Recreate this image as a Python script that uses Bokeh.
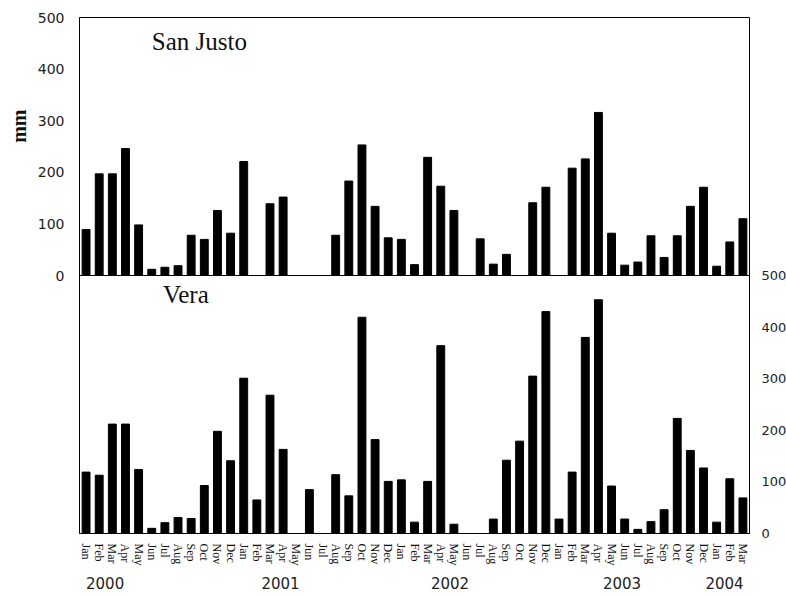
from bokeh.plotting import figure
from bokeh.models import (Range1d, LinearAxis, FixedTicker, Span, Label, Title)
from bokeh.embed import file_html
from bokeh.resources import INLINE

# ---------------- data ----------------
month_labels = ["Jan", "Feb", "Mar", "Apr", "May", "Jun", "Jul", "Aug", "Sep", "Oct", "Nov", "Dec"] * 4 + ["Jan", "Feb", "Mar"]
years = ["2000", "2001", "2002", "2003", "2004"]
san_justo = [89, 197, 197, 246, 98, 12, 16, 19, 78, 70, 126, 82,
             221, 0, 139, 152, 0, 0, 0, 78, 183, 253, 134, 73,
             70, 21, 229, 173, 126, 0, 71, 22, 41, 0, 141, 171,
             0, 208, 226, 316, 82, 20, 26, 77, 35, 77, 134, 171,
             18, 65, 110]
vera = [119, 113, 212, 212, 124, 10, 21, 31, 29, 93, 198, 141,
        301, 65, 268, 163, 0, 85, 0, 114, 73, 419, 182, 101,
        104, 22, 101, 364, 18, 0, 0, 28, 142, 179, 305, 430,
        28, 119, 380, 453, 92, 28, 8, 23, 46, 223, 161, 127,
        22, 106, 69]
y_ticks = [0, 100, 200, 300, 400, 500]

# ---------------- layout ----------------
n = len(month_labels)
x = list(range(n))
year_label_x = [1.45, 14.8, 27.7, 40.8, 48.6]

p = figure(frame_width=670, frame_height=516, output_backend="svg", toolbar_location=None,
           x_range=Range1d(-0.5, n - 0.5), y_range=Range1d(-500, 500),
           x_axis_location=None, y_axis_location=None,
           min_border_left=79, min_border_top=17, min_border_right=0, min_border_bottom=0)
p.extra_y_ranges = {"vera": Range1d(0, 1000)}
p.xgrid.visible = False
p.ygrid.visible = False
p.outline_line_color = "black"
p.outline_line_width = 1
p.background_fill_color = "white"
p.border_fill_color = "white"

# bars
p.vbar(x=x, top=san_justo, bottom=0, width=0.6, fill_color="black", line_color="black")
p.vbar(x=x, top=vera, bottom=0, width=0.6, fill_color="black", line_color="black", y_range_name="vera")

# divider between panels
p.add_layout(Span(location=0, dimension="width", line_color="black", line_width=1))

# left axis (San Justo)
ly = LinearAxis(ticker=FixedTicker(ticks=y_ticks), bounds=(0, 500))
ly.major_tick_line_color = None
ly.minor_tick_line_color = None
ly.axis_line_color = "black"
ly.major_label_text_font = "DejaVu Sans"
ly.major_label_text_font_size = "14px"
ly.major_label_text_color = "#222222"
ly.major_label_standoff = 9
p.add_layout(ly, "left")

# y axis title beside the upper panel
p.add_layout(Title(text="mm", align="right", offset=92, text_font="Liberation Serif",
                   text_font_style="bold", text_font_size="20px", text_color="#111111"), "left")

# right axis (Vera)
ry = LinearAxis(y_range_name="vera", ticker=FixedTicker(ticks=y_ticks), bounds=(0, 500))
ry.major_tick_line_color = None
ry.minor_tick_line_color = None
ry.axis_line_color = "black"
ry.major_label_text_font = "DejaVu Sans"
ry.major_label_text_font_size = "13px"
ry.major_label_text_color = "#222222"
ry.major_label_standoff = 6
p.add_layout(ry, "right")

# month axis
mx = LinearAxis(ticker=FixedTicker(ticks=x),
                major_label_overrides={i: m for i, m in enumerate(month_labels)})
mx.major_tick_line_color = None
mx.minor_tick_line_color = None
mx.axis_line_color = "black"
mx.major_label_orientation = "vertical"
mx.major_label_text_font = "Liberation Serif"
mx.major_label_text_font_size = "12px"
mx.major_label_text_color = "#111111"
mx.major_label_standoff = 4
p.add_layout(mx, "below")

# year axis
yx = LinearAxis(ticker=FixedTicker(ticks=year_label_x),
                major_label_overrides={v: y for v, y in zip(year_label_x, years)})
yx.major_tick_line_color = None
yx.minor_tick_line_color = None
yx.axis_line_color = None
yx.major_label_text_font = "DejaVu Sans"
yx.major_label_text_font_size = "15px"
yx.major_label_text_color = "#222222"
yx.major_label_standoff = 2
p.add_layout(yx, "below")

# panel titles
p.add_layout(Label(x=5.0, y=428, text="San Justo", text_font="Liberation Serif",
                   text_font_size="25px", text_color="#111111"))
p.add_layout(Label(x=5.85, y=437, text="Vera", text_font="Liberation Serif",
                   text_font_size="25px", text_color="#111111", y_range_name="vera"))

open("out.html", "w").write(file_html(p, INLINE))
